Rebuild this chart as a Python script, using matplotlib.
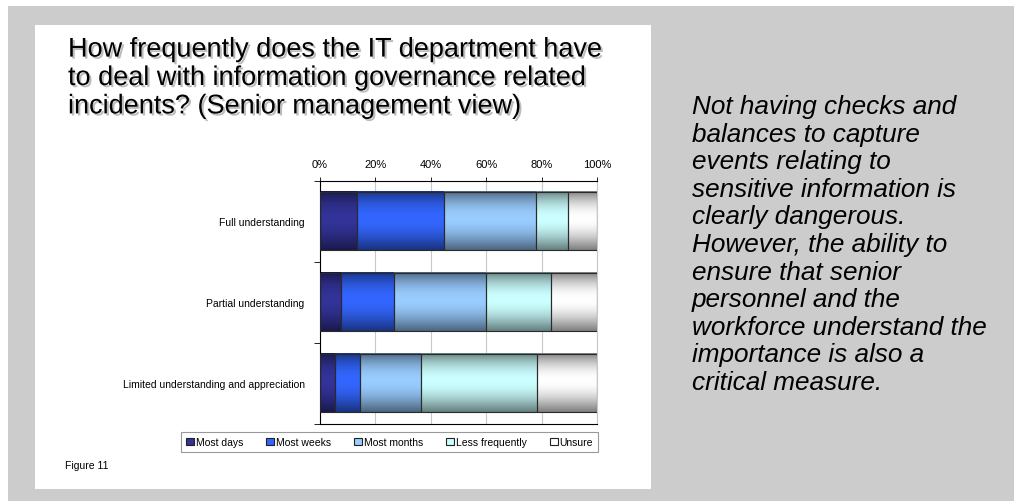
import numpy as np
import matplotlib
matplotlib.use("Agg")
import matplotlib.pyplot as plt
import matplotlib.colors as mcolors
import matplotlib.patheffects as pe
from matplotlib.patches import Rectangle, Patch

plt.rcParams['font.family'] = ['Liberation Sans', 'DejaVu Sans']

categories = ['Full understanding', 'Partial understanding',
              'Limited understanding and appreciation']
series = ['Most days', 'Most weeks', 'Most months', 'Less frequently', 'Unsure']
most_days = [13.2, 7.7, 5.5]
most_weeks = [31.6, 19.1, 8.9]
most_months = [33.1, 33.3, 22.0]
less_frequently = [11.5, 23.4, 41.8]
unsure = [10.6, 16.5, 21.8]
values = [most_days, most_weeks, most_months, less_frequently, unsure]
colors = ['#333399', '#3366ff', '#99ccff', '#ccffff', '#ffffff']

title = ("How frequently does the IT department have\n"
         "to deal with information governance related\n"
         "incidents? (Senior management view)")
comment = ("Not having checks and\n"
           "balances to capture\n"
           "events relating to\n"
           "sensitive information is\n"
           "clearly dangerous.\n"
           "However, the ability to\n"
           "ensure that senior\n"
           "personnel and the\n"
           "workforce understand the\n"
           "importance is also a\n"
           "critical measure.")

W, H = 1014, 502
fig = plt.figure(figsize=(W / 100, H / 100), dpi=100)
fig.patch.set_facecolor('white')


def px(x, y):
    return x / W, 1 - y / H


# grey page and the white card holding the chart
fig.patches.append(Rectangle(px(8, 502), 1, (502 - 7) / H, transform=fig.transFigure,
                             facecolor='#cccccc', edgecolor='none', zorder=-10))
fig.patches.append(Rectangle(px(35, 490), (651 - 35) / W, (490 - 26) / H,
                             transform=fig.transFigure, facecolor='white',
                             edgecolor='none', zorder=-9))

x0, y0 = px(320, 425)
ax = fig.add_axes([x0, y0, (597 - 320) / W, (425 - 181.5) / H])
ax.set_facecolor('none')

bar_h = 0.715
ypos = np.arange(len(categories))
# cylinder-like shading: darker at the top and bottom edge of each bar
t = np.linspace(0, 1, 64)
shade = 0.5 + 0.5 * np.sin(np.pi * t ** 0.9)

lefts = np.zeros(len(categories))
for vals, c in zip(values, colors):
    rgb = np.array(mcolors.to_rgb(c))
    img = shade[:, None, None] * rgb[None, None, :]
    for i, v in enumerate(vals):
        ax.imshow(img, extent=(lefts[i], lefts[i] + v, i + bar_h / 2, i - bar_h / 2),
                  aspect='auto', interpolation='bilinear', zorder=2)
    ax.barh(ypos, vals, left=lefts, height=bar_h, facecolor='none',
            edgecolor='#2a2a2a', linewidth=0.8, zorder=3)
    lefts += np.array(vals)

ax.set_xlim(0, 100)
ax.set_ylim(len(categories) - 0.5, -0.5)
ax.xaxis.tick_top()
ax.set_xticks(np.arange(0, 101, 20))
ax.xaxis.set_major_formatter(lambda v, p: f'{v:.0f}%')
ax.tick_params(axis='x', length=3, width=0.6, pad=5, labelsize=8)
ax.grid(axis='x', color='#c8c8c8', linewidth=0.8, zorder=0)
ax.set_axisbelow(True)

ax.set_yticks(ypos)
ax.set_yticklabels(categories)
ax.set_yticks(np.arange(-0.5, len(categories)), minor=True)
ax.tick_params(axis='y', which='major', length=0, pad=11, labelsize=7.5)
ax.tick_params(axis='y', which='minor', length=4, width=0.6)
for s in ['top', 'left', 'bottom']:
    ax.spines[s].set_linewidth(0.8)
    ax.spines[s].set_color('black')
ax.spines['right'].set_color('#c8c8c8')

handles = [Patch(facecolor=c, edgecolor='#222222', linewidth=0.8) for c in colors]
leg = fig.legend(handles, series, loc='center', bbox_to_anchor=px(389.5, 443),
                 ncol=5, fontsize=7.5, frameon=True, fancybox=False,
                 handlelength=0.75, handleheight=0.75, handletextpad=0.2,
                 columnspacing=2.2, borderpad=0.45)
leg.get_frame().set_edgecolor('#808080')
leg.get_frame().set_linewidth(0.8)

fig.text(*px(68, 79), title, fontsize=19.5, va='center', ha='left',
         linespacing=1.12,
         path_effects=[pe.withSimplePatchShadow(offset=(1.5, -1.5),
                                                shadow_rgbFace='#888888', alpha=0.55)])
fig.text(*px(692, 245), comment, fontsize=18.8, style='italic', va='center',
         ha='left', linespacing=1.19)
fig.text(*px(65, 466), 'Figure 11', fontsize=7.5, va='center', ha='left')

fig.savefig('out.png', dpi=100)
